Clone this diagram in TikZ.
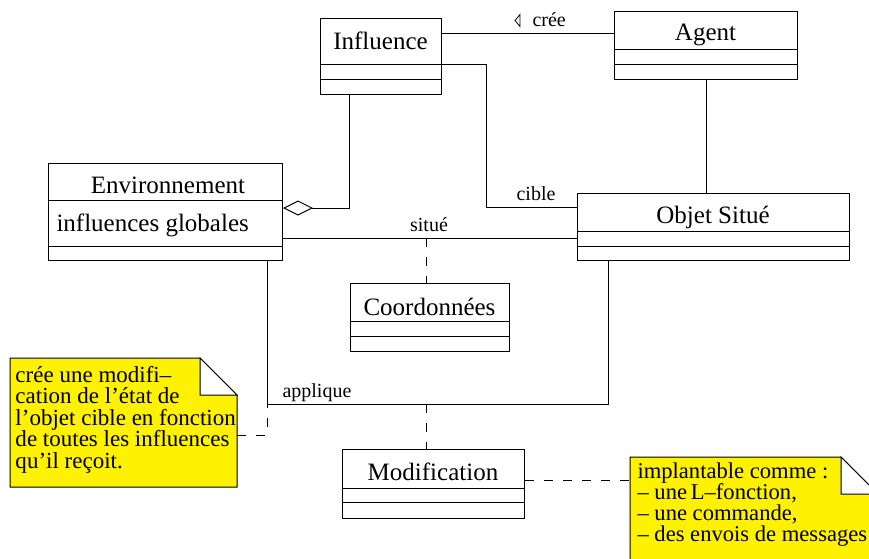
\documentclass[tikz,border=0pt]{standalone}
\usepackage{fontspec}
\setmainfont{Liberation Serif}
\usetikzlibrary{arrows.meta}
\begin{document}
\begin{tikzpicture}[x=1pt,y=-1pt,line width=1pt,
  classbox/.style={draw,rectangle,inner sep=0pt,anchor=north west},
  classname/.style={font=\fontsize{25}{30}\selectfont,anchor=base,inner sep=0pt},
  attr/.style={font=\fontsize{25}{30}\selectfont,anchor=base west,inner sep=0pt},
  rolelabel/.style={font=\fontsize{20}{24}\selectfont,anchor=base,inner sep=0pt},
  dep/.style={dash pattern=on 9pt off 10pt},
  notebox/.style={draw,fill=yellow},
  notefold/.style={draw,fill=white},
  notetext/.style={font=\fontsize{23}{21.5}\selectfont,align=left,inner sep=0pt,anchor=base west}]
\useasboundingbox (0,0) rectangle (869,558);
\begin{scope}
\clip (0,0) rectangle (869,558);

% ---- classes ----
\node[classbox,minimum width=121pt,minimum height=76pt] (inf) at (320,18) {};
\draw (320,64) -- (441,64) (320,79) -- (441,79);
\node[classname] (infname) at (380.5,49) {Influence};

\node[classbox,minimum width=183pt,minimum height=68pt] (agent) at (614,11) {};
\draw (614,49) -- (797,49) (614,64) -- (797,64);
\node[classname] (agentname) at (705.5,40) {Agent};

\node[classbox,minimum width=234pt,minimum height=97pt] (env) at (48,163) {};
\draw (48,200) -- (282,200) (48,246) -- (282,246);
\node[classname] (envname) at (168,193) {Environnement};
\node[attr] (envattr) at (56,231) {influences globales};

\node[classbox,minimum width=272pt,minimum height=67pt] (obj) at (577,193) {};
\draw (577,231) -- (849,231) (577,246) -- (849,246);
\node[classname] (objname) at (713,223) {Objet Situé};

\node[classbox,minimum width=159pt,minimum height=68pt] (coord) at (350,283) {};
\draw (350,321) -- (509,321) (350,336) -- (509,336);
\node[classname] (coordname) at (429.5,315) {Coordonnées};

\node[classbox,minimum width=182pt,minimum height=69pt] (modif) at (342,449) {};
\draw (342,488) -- (524,488) (342,502) -- (524,502);
\node[classname] (modifname) at (433,480) {Modification};

% ---- associations ----
\draw (inf.east |- 0,33) -- (agent.west |- 0,33);
\node[rolelabel,anchor=base west] (creelabel) at (532,26) {crée};
\draw[line width=0.8pt] (520,14.5) -- (515,20.5) -- (520,26.5) -- cycle;

\draw (inf.east |- 0,64) -- (486,64) -- (486,207) -- (obj.west |- 0,207);
\node[rolelabel] (ciblelabel) at (536,200) {cible};

\draw (agent.south -| 706,0) -- (obj.north -| 706,0);

\draw[{Diamond[open,length=30pt,width=15pt]}-] (env.east |- 0,208) -- (349,208) -- (inf.south -| 349,0);

\draw (env.east |- 0,238) -- (obj.west |- 0,238);
\node[rolelabel] (situelabel) at (429,231) {situé};
\coordinate (situemid) at (426,238);
\draw[dep] (situemid) -- (coord.north -| situemid);

\draw (env.south -| 267,0) -- (267,404) -- (608,404) -- (obj.south -| 608,0);
\node[rolelabel,anchor=base west] (appliquelabel) at (282,397) {applique};
\coordinate (appliquemid) at (426,404);
\draw[dep] (appliquemid) -- (modif.north -| appliquemid);

% ---- notes ----
\path[notebox] (10,358) -- (200,358) -- (237,395) -- (237,487) -- (10,487) -- cycle;
\path[notefold] (200,358) -- (200,395) -- (237,395) -- cycle;
\coordinate (noteA) at (237,435);
\node[notetext] (noteAtext) at (15,468) {crée une modifi–\\cation de l’état de\\l’objet cible en fonction\\de toutes les influences\\qu’il reçoit.};
\draw[dep] (noteA) -- (267,435) -- (267,404);

\path[notebox] (630,457) -- (841,457) -- (878,494) -- (878,570) -- (630,570) -- cycle;
\path[notefold] (841,457) -- (841,494) -- (878,494) -- cycle;
\coordinate (noteB) at (630,480);
\node[notetext,font=\fontsize{22.6}{21}\selectfont] (noteBtext) at (637,541) {implantable comme :\\– une\,L–fonction,\\– une commande,\\– des envois de messages};
\draw[dep] (modif.east |- noteB) -- (noteB);
\end{scope}
\end{tikzpicture}
\end{document}
